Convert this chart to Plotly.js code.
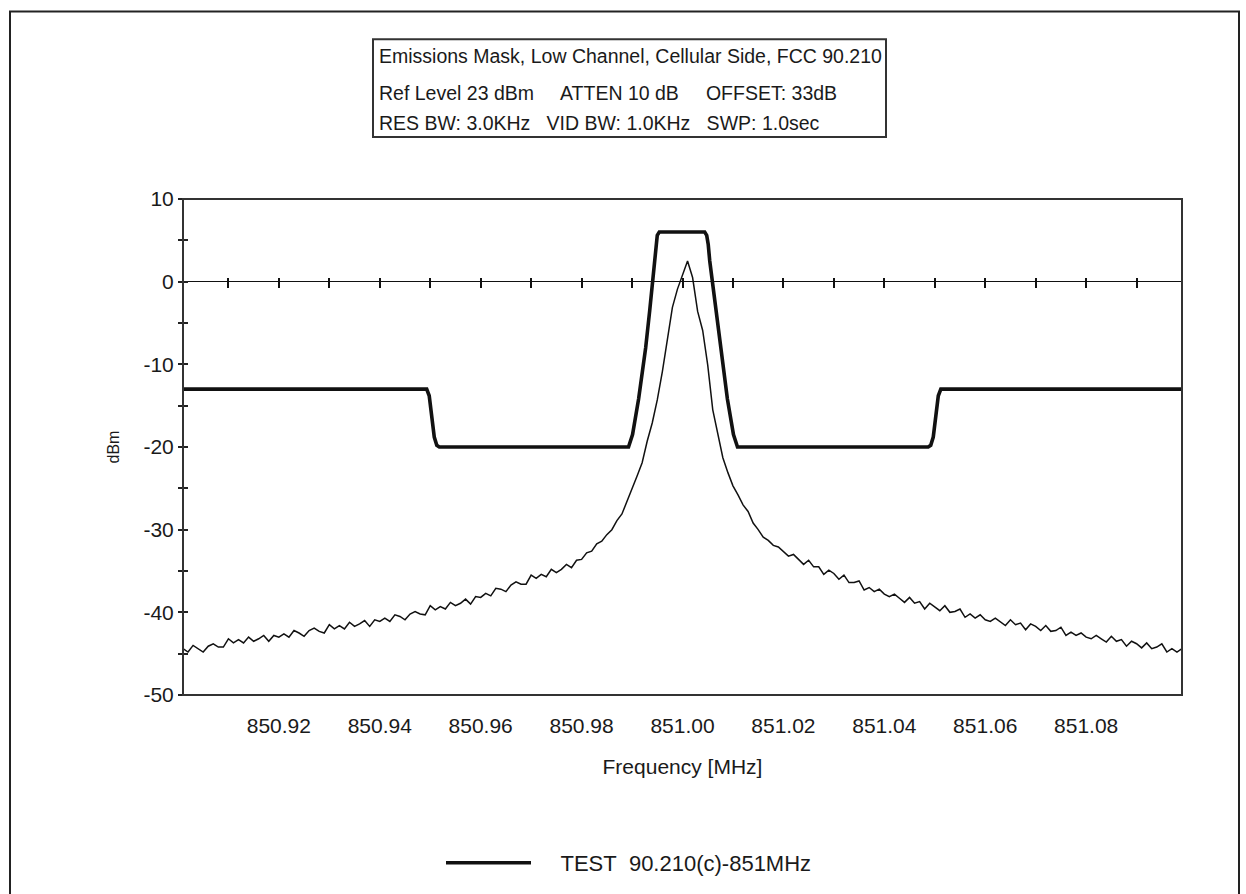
<!DOCTYPE html>
<html>
<head>
<meta charset="utf-8">
<script src="https://cdn.plot.ly/plotly-3.0.1.min.js"></script>
<style>
  html, body { margin: 0; padding: 0; background: #ffffff; }
  #chart { width: 1246px; height: 894px; }
</style>
</head>
<body>
<div id="chart"></div>
<script>
// ---- Data ----
const headerLines = [
  'Emissions Mask, Low Channel, Cellular Side, FCC 90.210',
  'Ref Level 23 dBm     ATTEN 10 dB     OFFSET: 33dB',
  'RES BW: 3.0KHz   VID BW: 1.0KHz   SWP: 1.0sec'
];
const legendName = 'TEST\u00a0 90.210(c)-851MHz';

// Emission mask (dBm) at frequency break points (MHz)
const maskFreq = [850.901, 850.9493, 850.9498, 850.9503, 850.9508, 850.9513, 850.9518,
  850.9893, 850.9901, 850.9913, 850.9927, 850.9935, 850.9941, 850.9944, 850.9947, 850.9950, 850.9954,
  851.0044, 851.0048, 851.0051, 851.0054, 851.0059, 851.0066, 851.0075, 851.0089, 851.0101, 851.0109,
  851.0487, 851.0492, 851.0497, 851.0502, 851.0507, 851.0512, 851.099];
const maskLevel = [-13, -13, -13.8, -16.5, -18.8, -19.8, -20,
  -20, -18.5, -14.2, -8, -3.5, 0, 2.5, 4.5, 5.6, 6,
  6, 5.6, 4.5, 2.5, 0, -3.5, -8, -14.2, -18.5, -20,
  -20, -19.8, -18.8, -16.5, -13.8, -13, -13];

// Measured spectrum: sweep starts at 850.901 MHz, one reading every 0.001 MHz
const sweepStart = 850.901;
const sweepStep = 0.001;
const spectrumLevel = [
  -44.4, -44.8, -44.0, -44.4, -44.8, -44.1, -43.8, -44.2, -44.2, -43.2,
  -43.7, -43.3, -43.7, -43.0, -43.5, -43.2, -42.8, -43.5, -42.8, -43.0,
  -42.6, -43.0, -42.2, -42.5, -42.9, -42.2, -41.9, -42.3, -42.5, -41.5,
  -42.0, -41.6, -42.0, -41.2, -41.7, -41.4, -41.0, -41.7, -40.9, -41.1,
  -40.7, -41.1, -40.3, -40.5, -40.9, -40.2, -39.9, -40.2, -40.3, -39.2,
  -39.7, -39.3, -39.6, -38.8, -39.2, -38.9, -38.4, -39.0, -38.1, -38.2,
  -37.7, -38.0, -37.1, -37.2, -37.5, -36.7, -36.3, -36.6, -36.6, -35.5,
  -35.9, -35.4, -35.7, -34.8, -35.2, -34.8, -34.2, -34.6, -33.7, -33.6,
  -32.8, -32.6, -31.7, -31.4, -30.6, -30.0, -28.9, -28.1, -26.6, -25.2,
  -23.5, -21.9, -19.3, -17.1, -14.3, -10.9, -6.9, -3.1, -0.9, 0.9,
  2.5, 0.5, -3.6, -5.9, -10.1, -15.5, -18.2, -21.3, -23.1, -24.7,
  -25.8, -27.0, -27.8, -29.2, -30.0, -30.9, -31.3, -31.9, -32.1, -32.7,
  -33.2, -33.0, -33.6, -34.2, -33.7, -34.5, -34.5, -35.4, -34.9, -35.3,
  -36.0, -35.5, -36.4, -36.4, -36.2, -37.3, -37.0, -37.5, -37.2, -37.8,
  -38.1, -37.8, -38.3, -38.8, -38.2, -38.9, -38.7, -39.6, -38.9, -39.3,
  -39.8, -39.2, -40.0, -39.9, -39.6, -40.6, -40.2, -40.7, -40.3, -40.9,
  -41.1, -40.7, -41.1, -41.6, -40.9, -41.5, -41.3, -42.1, -41.4, -41.7,
  -42.2, -41.6, -42.3, -42.2, -41.8, -42.8, -42.4, -42.8, -42.5, -43.0,
  -43.2, -42.8, -43.2, -43.6, -42.9, -43.5, -43.3, -44.1, -43.5, -43.8,
  -44.3, -43.7, -44.4, -44.2, -43.8, -44.8, -44.4, -44.8, -44.4
];

// Axis ticks
const freqRange = [850.901, 851.099];
const levelRange = [-50, 10];
const freqTickVals = [850.92, 850.94, 850.96, 850.98, 851.00, 851.02, 851.04, 851.06, 851.08];
const freqTickText = ['850.92', '850.94', '850.96', '850.98', '851.00', '851.02', '851.04', '851.06', '851.08'];
const zeroLineTickVals = [850.91, 850.92, 850.93, 850.94, 850.95, 850.96, 850.97, 850.98, 850.99, 851.00,
  851.01, 851.02, 851.03, 851.04, 851.05, 851.06, 851.07, 851.08, 851.09];
const levelTickVals = [-50, -45, -40, -35, -30, -25, -20, -15, -10, -5, 0, 5, 10];
const levelTickText = ['-50', '', '-40', '', '-30', '', '-20', '', '-10', '', '0', '', '10'];

// ---- Chart ----
const FONT = 'Liberation Sans, Arial, Helvetica, sans-serif';
const INK = '#1a1a1a';

const traces = [
  {
    type: 'scatter', mode: 'lines',
    x0: sweepStart, dx: sweepStep, y: spectrumLevel,
    xaxis: 'x', yaxis: 'y',
    name: 'Measured spectrum',
    line: { color: '#111111', width: 1.5 },
    showlegend: false, hoverinfo: 'skip'
  },
  {
    type: 'scatter', mode: 'lines',
    x: maskFreq, y: maskLevel,
    xaxis: 'x2', yaxis: 'y',
    name: '\u00a0\u00a0\u00a0\u00a0' + legendName,
    line: { color: '#111111', width: 3.6 },
    showlegend: true, hoverinfo: 'skip'
  }
];

// paper coordinate helpers (plot area: x 183..1182, y 199..696)
const PL = 183, PW = 999, PB = 696, PH = 497;
const px2X = p => (p - PL) / PW;
const px2Y = p => (PB - p) / PH;
const zeroFrac = (0 - levelRange[0]) / (levelRange[1] - levelRange[0]);

const annotations = headerLines.map((t, i) => ({
  xref: 'paper', yref: 'paper',
  x: px2X(377), y: px2Y([56, 93, 123][i]),
  xanchor: 'left', yanchor: 'middle',
  text: t, showarrow: false,
  font: { family: FONT, size: 19.5, color: INK }
}));

const layout = {
  width: 1246, height: 894,
  margin: { l: PL, r: 1246 - (PL + PW), t: PB - PH, b: 894 - PB, pad: 0 },
  paper_bgcolor: '#ffffff', plot_bgcolor: '#ffffff',
  font: { family: FONT, size: 21, color: INK },
  showlegend: true,
  legend: {
    orientation: 'h', x: px2X(441), xanchor: 'left', y: px2Y(863), yanchor: 'middle',
    itemwidth: 85, font: { family: FONT, size: 22, color: INK },
    bgcolor: 'rgba(0,0,0,0)', borderwidth: 0
  },
  xaxis: {
    range: freqRange, tickvals: freqTickVals, ticktext: freqTickText,
    ticks: '', ticklabelstandoff: 16,
    showline: false, showgrid: false, zeroline: false,
    tickfont: { family: FONT, size: 21, color: INK },
    title: { text: 'Frequency [MHz]', font: { family: FONT, size: 21, color: INK }, standoff: 23 }
  },
  // carries the mask; its ticks are the cross marks on the 0 dBm line
  xaxis2: {
    overlaying: 'x', anchor: 'free', position: zeroFrac + 5 / PH,
    range: freqRange, tickvals: zeroLineTickVals, ticks: 'outside', ticklen: 10, tickwidth: 2, tickcolor: '#111',
    showticklabels: false, showline: false, showgrid: false, zeroline: false
  },
  yaxis: {
    range: levelRange, tickvals: levelTickVals, ticktext: levelTickText,
    anchor: 'free', position: 5 / PW,
    ticks: 'outside', ticklen: 10, tickwidth: 2, tickcolor: '#222',
    showline: false, showgrid: false,
    zeroline: true, zerolinecolor: '#111111', zerolinewidth: 1.5,
    tickfont: { family: FONT, size: 21, color: INK },
    title: { text: 'dBm', font: { family: FONT, size: 16, color: INK }, standoff: 18 }
  },
  shapes: [
    { type: 'rect', xref: 'paper', yref: 'paper', x0: 0, x1: 1, y0: 0, y1: 1,
      line: { color: '#333333', width: 2 }, fillcolor: 'rgba(0,0,0,0)', layer: 'above' },
    { type: 'rect', xref: 'paper', yref: 'paper',
      x0: px2X(10), x1: px2X(1239), y0: px2Y(905), y1: px2Y(11),
      line: { color: '#222222', width: 2 }, fillcolor: 'rgba(0,0,0,0)' },
    { type: 'rect', xref: 'paper', yref: 'paper',
      x0: px2X(373), x1: px2X(886), y0: px2Y(137), y1: px2Y(39),
      line: { color: '#333333', width: 2 }, fillcolor: 'rgba(0,0,0,0)' }
  ],
  annotations: annotations
};

Plotly.newPlot('chart', traces, layout, { staticPlot: true, displayModeBar: false });
</script>
</body>
</html>
